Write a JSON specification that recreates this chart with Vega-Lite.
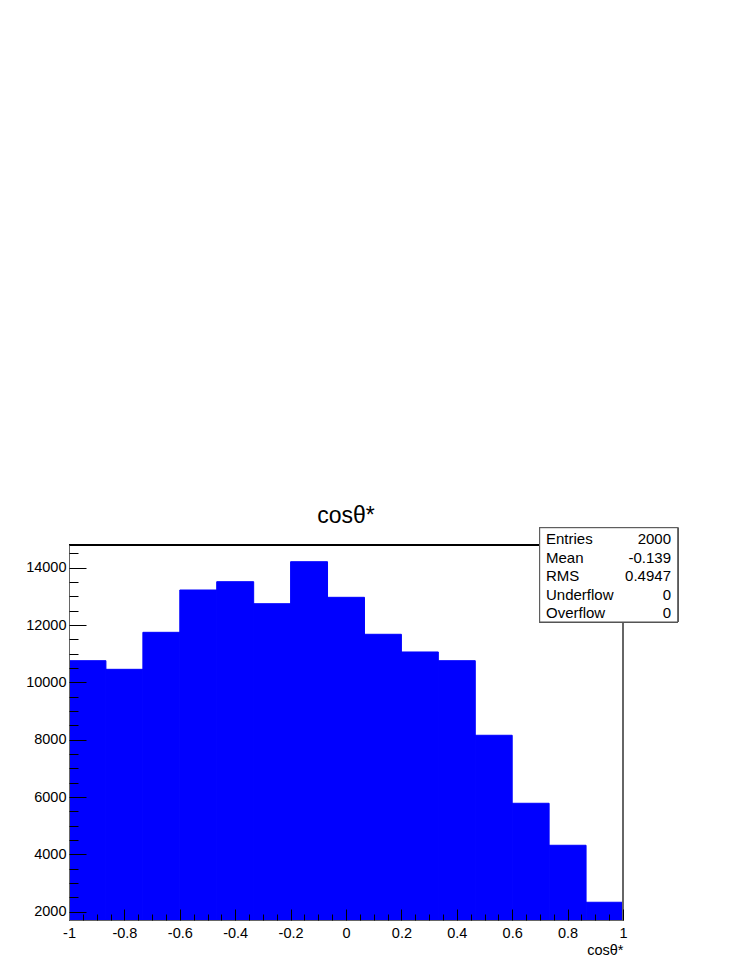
{
  "$schema": "https://vega.github.io/schema/vega-lite/v6.json",
  "width": 554,
  "height": 375,
  "autosize": {"type": "none"},
  "padding": {"left": 69, "top": 545, "right": 124, "bottom": 47},
  "background": "white",
  "config": {
    "view": {"stroke": null},
    "font": "Liberation Sans",
    "locale": {"number": {"decimal": ".", "thousands": ",", "grouping": [3], "currency": ["$", ""], "minus": "-"}}
  },
  "title": {"text": "cosθ*", "fontSize": 23, "font": "Liberation Sans", "fontWeight": "normal", "anchor": "middle", "offset": -19, "color": "black", "baseline": "alphabetic"},
  "datasets": {
    "hist": [
      {"bin_start": -1.0, "bin_end": -0.8667, "count": 10756},
      {"bin_start": -0.8667, "bin_end": -0.7333, "count": 10455},
      {"bin_start": -0.7333, "bin_end": -0.6, "count": 11746},
      {"bin_start": -0.6, "bin_end": -0.4667, "count": 13222},
      {"bin_start": -0.4667, "bin_end": -0.3333, "count": 13512},
      {"bin_start": -0.3333, "bin_end": -0.2, "count": 12744},
      {"bin_start": -0.2, "bin_end": -0.0667, "count": 14209},
      {"bin_start": -0.0667, "bin_end": 0.0667, "count": 12967},
      {"bin_start": 0.0667, "bin_end": 0.2, "count": 11677},
      {"bin_start": 0.2, "bin_end": 0.3333, "count": 11060},
      {"bin_start": 0.3333, "bin_end": 0.4667, "count": 10756},
      {"bin_start": 0.4667, "bin_end": 0.6, "count": 8154},
      {"bin_start": 0.6, "bin_end": 0.7333, "count": 5782},
      {"bin_start": 0.7333, "bin_end": 0.8667, "count": 4317},
      {"bin_start": 0.8667, "bin_end": 1.0, "count": 2329}
    ],
    "stats": [
      {"stat": "Entries", "value": "2000"},
      {"stat": "Mean", "value": "-0.139"},
      {"stat": "RMS", "value": "0.4947"},
      {"stat": "Underflow", "value": "0"},
      {"stat": "Overflow", "value": "0"}
    ]
  },
  "layer": [
    {
      "data": {"name": "hist"},
      "layer": [
        {
          "mark": {"type": "rect", "fill": "#0000ff", "stroke": "#0000ff", "strokeWidth": 1, "clip": true},
          "encoding": {
            "x": {
              "field": "bin_start", "type": "quantitative",
              "scale": {"domain": [-1, 1], "nice": false, "zero": false},
              "axis": {
                "orient": "bottom",
                "values": [-1, -0.8, -0.6, -0.4, -0.2, 0, 0.2, 0.4, 0.6, 0.8, 1],
                "format": "~g",
                "grid": false,
                "tickSize": -11, "tickColor": "black", "tickWidth": 1,
                "domainColor": "#666", "domainWidth": 1,
                "labelFontSize": 14.5, "labelFont": "Liberation Sans", "labelColor": "black",
                "labelPadding": 17, "labelFlush": false, "labelOverlap": false, "labelBound": false,
                "title": "cosθ*", "titleFontSize": 14.5, "titleFont": "Liberation Sans", "titleFontWeight": "normal",
                "titleColor": "black", "titleAnchor": "end", "titleAlign": "right", "titlePadding": 4,
                "zindex": 1
              }
            },
            "x2": {"field": "bin_end"},
            "y": {
              "field": "count", "type": "quantitative",
              "scale": {"domain": [1710, 14792], "nice": false, "zero": false},
              "axis": {
                "orient": "left",
                "values": [2000, 4000, 6000, 8000, 10000, 12000, 14000],
                "format": "d",
                "grid": false,
                "tickSize": -17, "tickColor": "black", "tickWidth": 1,
                "domainColor": "#666", "domainWidth": 1,
                "labelFontSize": 14.5, "labelFont": "Liberation Sans", "labelColor": "black",
                "labelPadding": 20, "labelFlush": false, "labelOverlap": false,
                "title": null,
                "zindex": 1
              }
            },
            "y2": {"datum": 1710}
          }
        },
        {
          "mark": {"type": "point", "opacity": 0},
          "encoding": {
            "x": {
              "datum": -1, "type": "quantitative",
              "scale": {"domain": [-1, 1], "nice": false, "zero": false},
              "axis": {
                "orient": "bottom",
                "values": [-1, -0.95, -0.9, -0.85, -0.8, -0.75, -0.7, -0.65, -0.6, -0.55, -0.5, -0.45, -0.4, -0.35, -0.3, -0.25, -0.2, -0.15, -0.1, -0.05, 0, 0.05, 0.1, 0.15, 0.2, 0.25, 0.3, 0.35, 0.4, 0.45, 0.5, 0.55, 0.6, 0.65, 0.7, 0.75, 0.8, 0.85, 0.9, 0.95, 1],
                "labels": false, "domain": false, "grid": false, "title": null,
                "tickSize": -6, "tickColor": "black", "tickWidth": 1,
                "zindex": 1
              }
            },
            "y": {
              "datum": 1710, "type": "quantitative",
              "scale": {"domain": [1710, 14792], "nice": false, "zero": false},
              "axis": {
                "orient": "left",
                "values": [2000, 2500, 3000, 3500, 4000, 4500, 5000, 5500, 6000, 6500, 7000, 7500, 8000, 8500, 9000, 9500, 10000, 10500, 11000, 11500, 12000, 12500, 13000, 13500, 14000, 14500],
                "labels": false, "domain": false, "grid": false, "title": null,
                "tickSize": -9, "tickColor": "black", "tickWidth": 1,
                "zindex": 1
              }
            }
          }
        },
        {
          "mark": {"type": "rule", "color": "black", "strokeWidth": 1},
          "encoding": {
            "x": {"datum": -1, "type": "quantitative", "scale": {"domain": [-1, 1], "nice": false, "zero": false}, "axis": null},
            "x2": {"datum": 1},
            "y": {"datum": 14792, "type": "quantitative", "scale": {"domain": [1710, 14792], "nice": false, "zero": false}, "axis": null}
          }
        },
        {
          "mark": {"type": "rule", "color": "#666", "strokeWidth": 1},
          "encoding": {
            "x": {"datum": 1, "type": "quantitative", "scale": {"domain": [-1, 1], "nice": false, "zero": false}, "axis": null},
            "y": {"datum": 1710, "type": "quantitative", "scale": {"domain": [1710, 14792], "nice": false, "zero": false}, "axis": null},
            "y2": {"datum": 14792}
          }
        },
        {
          "mark": {"type": "rect", "fill": "white", "stroke": "#555", "strokeWidth": 1},
          "encoding": {
            "x": {"datum": 0.6992, "type": "quantitative", "scale": {"domain": [-1, 1], "nice": false, "zero": false}, "axis": null},
            "x2": {"datum": 1.1975},
            "y": {"datum": 15395, "type": "quantitative", "scale": {"domain": [1710, 14792], "nice": false, "zero": false}, "axis": null},
            "y2": {"datum": 12106}
          }
        }
      ],
      "resolve": {"axis": {"x": "independent", "y": "independent"}}
    },
    {
      "data": {"name": "stats"},
      "layer": [
        {
          "mark": {"type": "text", "align": "left", "baseline": "middle", "fontSize": 15, "font": "Liberation Sans", "color": "black"},
          "encoding": {
            "x": {"datum": 0.722, "type": "quantitative", "scale": {"domain": [-1, 1], "nice": false, "zero": false}, "axis": null},
            "y": {"field": "stat", "type": "ordinal", "sort": ["Entries", "Mean", "RMS", "Underflow", "Overflow"], "scale": {"type": "point", "range": [-6, 68], "padding": 0}, "axis": null},
            "text": {"field": "stat"}
          }
        },
        {
          "mark": {"type": "text", "align": "right", "baseline": "middle", "fontSize": 15, "font": "Liberation Sans", "color": "black"},
          "encoding": {
            "x": {"datum": 1.1733, "type": "quantitative", "scale": {"domain": [-1, 1], "nice": false, "zero": false}, "axis": null},
            "y": {"field": "stat", "type": "ordinal", "sort": ["Entries", "Mean", "RMS", "Underflow", "Overflow"], "scale": {"type": "point", "range": [-6, 68], "padding": 0}, "axis": null},
            "text": {"field": "value"}
          }
        }
      ]
    }
  ],
  "resolve": {"scale": {"y": "independent"}, "axis": {"y": "independent"}}
}
